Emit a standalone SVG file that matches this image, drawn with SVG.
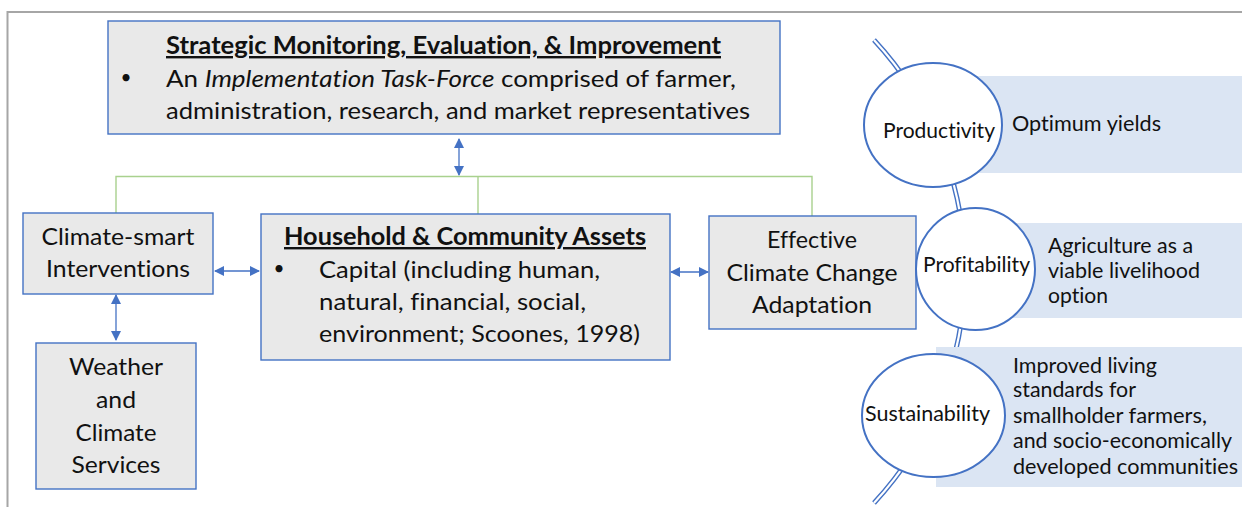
<svg xmlns="http://www.w3.org/2000/svg" width="1242" height="507" viewBox="0 0 1242 507">
  <style>
    .box { fill: #e9e9e9; stroke: #4472c4; stroke-width: 1.4; }
    .t { font-family: Lato, "Liberation Sans", sans-serif; fill: #111; font-variant-ligatures: none; font-feature-settings: "liga" 0, "dlig" 0, "clig" 0; }
    .m { font-size: 24px; }
    .s { font-size: 21px; }
    .b { font-weight: bold; text-decoration: underline; }
    .c { text-anchor: middle; }
    .dot { font-size: 19px; }
    .green { fill: none; stroke: #a9d18e; stroke-width: 1.4; }
    .arrow { fill: none; stroke: #4472c4; stroke-width: 1.3; marker-start: url(#head); marker-end: url(#head); }
    .pill { fill: #dbe5f3; }
    .ring { fill: #ffffff; stroke: #4472c4; stroke-width: 2; }
  </style>
  <defs>
    <marker id="head" viewBox="0 0 10 10" refX="9" refY="5" markerWidth="10" markerHeight="10" markerUnits="userSpaceOnUse" orient="auto-start-reverse">
      <path d="M0,0 L10,5 L0,10 Z" fill="#4472c4"/>
    </marker>
  </defs>

  <!-- page frame -->
  <path d="M7.5,507 V12 H1242" fill="none" stroke="#a6a6a6" stroke-width="2"/>

  <!-- connectors -->
  <g id="connectors">
    <path class="green" d="M116,213 V176.5 H812 V216"/>
    <path class="green" d="M478,176.5 V214"/>
    <line class="arrow" x1="459" y1="139" x2="459" y2="175"/>
    <line class="arrow" x1="116" y1="295" x2="116" y2="340"/>
    <line class="arrow" x1="215" y1="271" x2="259" y2="271"/>
    <line class="arrow" x1="671" y1="272" x2="708" y2="272"/>
  </g>

  <g id="strategic-monitoring">
    <rect class="box" x="108" y="21" width="672" height="113"/>
    <text class="t m b" x="166" y="54" textLength="555" lengthAdjust="spacingAndGlyphs">Strategic Monitoring, Evaluation, &amp; Improvement</text>
    <text class="t dot c" x="126" y="84">•</text>
    <text class="t m" x="166" y="87" textLength="570" lengthAdjust="spacingAndGlyphs">An <tspan font-style="italic">Implementation Task-Force</tspan> comprised of farmer,</text>
    <text class="t m" x="166" y="119" textLength="584" lengthAdjust="spacingAndGlyphs">administration, research, and market representatives</text>
  </g>

  <g id="climate-smart">
    <rect class="box" x="23" y="213" width="190" height="81"/>
    <text class="t m c" x="118" y="245" textLength="153" lengthAdjust="spacingAndGlyphs">Climate-smart</text>
    <text class="t m c" x="118" y="277" textLength="144" lengthAdjust="spacingAndGlyphs">Interventions</text>
  </g>

  <g id="weather-climate">
    <rect class="box" x="36" y="343" width="160" height="146"/>
    <text class="t m c" x="116" y="375" textLength="94" lengthAdjust="spacingAndGlyphs">Weather</text>
    <text class="t m c" x="116" y="408" textLength="40" lengthAdjust="spacingAndGlyphs">and</text>
    <text class="t m c" x="116" y="441" textLength="81" lengthAdjust="spacingAndGlyphs">Climate</text>
    <text class="t m c" x="116" y="473" textLength="89" lengthAdjust="spacingAndGlyphs">Services</text>
  </g>

  <g id="household-assets">
    <rect class="box" x="261" y="214" width="409" height="146"/>
    <text class="t m b" x="284" y="245" textLength="362" lengthAdjust="spacingAndGlyphs">Household &amp; Community Assets</text>
    <text class="t dot c" x="279" y="275">•</text>
    <text class="t m" x="319" y="278" textLength="281" lengthAdjust="spacingAndGlyphs">Capital (including human,</text>
    <text class="t m" x="319" y="310" textLength="267" lengthAdjust="spacingAndGlyphs">natural, financial, social,</text>
    <text class="t m" x="319" y="342" textLength="321" lengthAdjust="spacingAndGlyphs">environment; Scoones, 1998)</text>
  </g>

  <g id="adaptation">
    <rect class="box" x="709" y="216" width="207" height="113"/>
    <text class="t m c" x="812" y="248" textLength="90" lengthAdjust="spacingAndGlyphs">Effective</text>
    <text class="t m c" x="812" y="281" textLength="171" lengthAdjust="spacingAndGlyphs">Climate Change</text>
    <text class="t m c" x="812" y="313" textLength="120" lengthAdjust="spacingAndGlyphs">Adaptation</text>
  </g>

  <!-- outcome arc (double line) -->
  <g id="outcome-arc">
    <path d="M874,40 A340,340 0 0 1 874,503" fill="none" stroke="#4472c4" stroke-width="5"/>
    <path d="M874,40 A340,340 0 0 1 874,503" fill="none" stroke="#ffffff" stroke-width="2.2"/>
  </g>

  <g id="productivity">
    <rect class="pill" x="933" y="76" width="309" height="97"/>
    <ellipse class="ring" cx="933" cy="125" rx="69" ry="62"/>
    <text class="t s" x="883" y="138" textLength="112" lengthAdjust="spacingAndGlyphs">Productivity</text>
    <text class="t s" x="1012" y="131" textLength="149" lengthAdjust="spacingAndGlyphs">Optimum yields</text>
  </g>

  <g id="profitability">
    <rect class="pill" x="975" y="223" width="267" height="95"/>
    <ellipse class="ring" cx="975.5" cy="269" rx="59.5" ry="61"/>
    <text class="t s" x="923" y="272" textLength="107" lengthAdjust="spacingAndGlyphs">Profitability</text>
    <text class="t s" x="1048" y="253" textLength="145" lengthAdjust="spacingAndGlyphs">Agriculture as a</text>
    <text class="t s" x="1048" y="278" textLength="152" lengthAdjust="spacingAndGlyphs">viable livelihood</text>
    <text class="t s" x="1048" y="303" textLength="60" lengthAdjust="spacingAndGlyphs">option</text>
  </g>

  <g id="sustainability">
    <rect class="pill" x="936" y="347" width="306" height="140"/>
    <ellipse class="ring" cx="933.5" cy="415.5" rx="71.5" ry="61.5"/>
    <text class="t s" x="865" y="421" textLength="125" lengthAdjust="spacingAndGlyphs">Sustainability</text>
    <text class="t s" x="1013" y="373" textLength="144" lengthAdjust="spacingAndGlyphs">Improved living</text>
    <text class="t s" x="1013" y="397" textLength="123" lengthAdjust="spacingAndGlyphs">standards for</text>
    <text class="t s" x="1013" y="423" textLength="194" lengthAdjust="spacingAndGlyphs">smallholder farmers,</text>
    <text class="t s" x="1013" y="448" textLength="219" lengthAdjust="spacingAndGlyphs">and socio-economically</text>
    <text class="t s" x="1013" y="474" textLength="225" lengthAdjust="spacingAndGlyphs">developed communities</text>
  </g>
</svg>
